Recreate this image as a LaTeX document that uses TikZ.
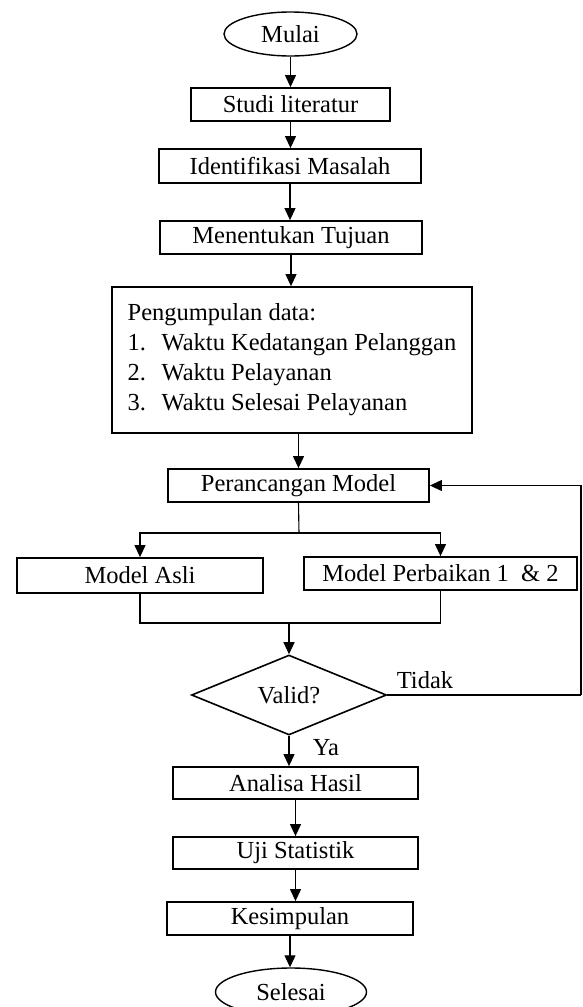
\documentclass[tikz,border=0pt]{standalone}
\usepackage{fontspec}
\setmainfont{Liberation Serif}
\usetikzlibrary{shapes.geometric,arrows.meta}
\begin{document}
\begin{tikzpicture}[x=1pt,y=-1pt,
  font=\fontsize{24.5}{30}\selectfont,
  box/.style={draw, line width=1.8pt, rectangle, inner sep=0pt, align=center},
  term/.style={draw, line width=1.4pt, ellipse, inner sep=0pt, minimum width=133pt, minimum height=44pt},
  conn/.style={line width=1.1pt},
  arr/.style={conn, -{Triangle[length=12pt,width=11pt]}}]
\useasboundingbox (0,0) rectangle (582,1007);
\begin{scope}
\clip (0,0) rectangle (582,1007);
\node[term] (mulai) at (290.5,34) {Mulai};
\node[box, minimum width=199pt, minimum height=33pt] (studi) at (290.5,104.5) {Studi literatur};
\node[box, minimum width=262pt, minimum height=34pt] (ident) at (290,166) {Identifikasi Masalah};
\node[box, minimum width=262pt, minimum height=33pt] (tujuan) at (291,237.5) {Menentukan Tujuan};
\node[box, minimum width=360pt, minimum height=146pt, align=left] (data) at (292,360)
  {Pengumpulan data:\\
   \makebox[34pt][l]{1.}Waktu Kedatangan Pelanggan\\
   \makebox[34pt][l]{2.}Waktu Pelayanan\\
   \makebox[34pt][l]{3.}Waktu Selesai Pelayanan};
\node[box, minimum width=261pt, minimum height=33pt] (peran) at (298.5,485.5) {Perancangan Model};
\node[box, minimum width=246pt, minimum height=35pt] (asli) at (140,575.5) {Model Asli};
\node[box, minimum width=273pt, minimum height=33pt] (perb) at (440.5,573.5) {Model Perbaikan 1 \ \& 2};
\node[draw, line width=1.6pt, diamond, inner sep=0pt, minimum width=195pt, minimum height=77pt] (valid) at (289,695) {Valid?};
\node[inner sep=0pt] (tidak) at (425,680) {Tidak};
\node[inner sep=0pt] (ya) at (326,748) {Ya};
\node[box, minimum width=245pt, minimum height=32pt] (analisa) at (295.5,783) {Analisa Hasil};
\node[box, minimum width=245pt, minimum height=32pt] (uji) at (295.5,853) {Uji Statistik};
\node[box, minimum width=246pt, minimum height=33pt] (kes) at (290,918.5) {Kesimpulan};
\node[term, minimum width=151pt, minimum height=48pt] (selesai) at (291,992) {Selesai};

\coordinate (br) at (299,533);
\coordinate (mg) at (289,623);
\coordinate (fb) at (581,695);

\draw[arr] (mulai.south) -- (mulai.south |- studi.north);
\draw[arr] (studi.south) -- (studi.south |- ident.north);
\draw[arr] (ident.south) -- (ident.south |- tujuan.north);
\draw[arr] (tujuan.south) -- (tujuan.south |- data.north);
\draw[arr] (data.south -| peran.north) -- (peran.north);
\draw[conn] (peran.south) -- (br);
\draw[arr] (br) -| (asli.north);
\draw[arr] (br) -| (perb.north);
\draw[conn] (asli.south) -- (asli.south |- mg) -- (mg);
\draw[conn] (perb.south) -- (perb.south |- mg) -- (mg);
\draw[arr] (mg) -- (valid.north);
\draw[conn] (valid.east) -- (fb);
\draw[arr] (fb) |- (peran.east);
\draw[arr] (valid.south) -- (valid.south |- analisa.north);
\draw[arr] (analisa.south -| uji.north) -- (uji.north);
\draw[arr] (uji.south) -- (uji.south |- kes.north);
\draw[arr] (kes.south) -- (kes.south |- selesai.north);
\end{scope}
\end{tikzpicture}
\end{document}
